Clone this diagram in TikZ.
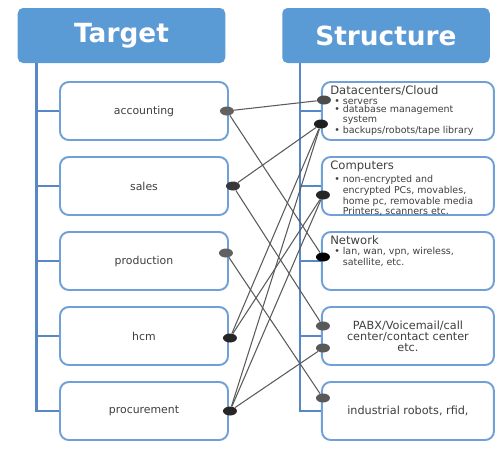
\documentclass[tikz,border=0pt]{standalone}
\usepackage{fontspec}
\setmainfont{DejaVu Sans}
\usepackage{xcolor}
\usepackage{tikz}
\usetikzlibrary{positioning,shapes.geometric}

\definecolor{headblue}{HTML}{5B9BD5}
\definecolor{treeblue}{HTML}{5787C4}
\definecolor{boxblue}{HTML}{6FA0D8}
\definecolor{txtgray}{HTML}{3F3F3F}
\definecolor{linkgray}{HTML}{5A5A5A}
\definecolor{dotgray}{HTML}{404040}

\newcommand{\bul}{\hspace*{0.08cm}\makebox[0.17cm][l]{\textbullet}}
\newcommand{\ind}{\hspace*{0.25cm}}

\begin{document}
\begin{tikzpicture}[
    node distance=1.5cm,
    head/.style={rectangle, rounded corners=3pt, fill=headblue, text=white, minimum width=4.15cm, minimum height=1.1cm, font=\bfseries\fontsize{15}{18}\selectfont},
    lbox/.style={rectangle, rounded corners=5pt, draw=boxblue, line width=1.1pt, fill=white, minimum width=3.36cm, minimum height=1.16cm, text=txtgray, font=\fontsize{6.2}{7}\selectfont},
    rbox/.style={lbox, minimum width=3.44cm, align=center, font=\fontsize{6.4}{4.9}\selectfont},
    rtext/.style={anchor=north west, inner sep=0pt, align=left, text=txtgray, font=\fontsize{5.4}{4.7}\selectfont},
    tree/.style={draw=treeblue, line width=1.3pt},
    link/.style={draw=linkgray, line width=0.6pt},
    dot/.style={ellipse, fill=dotgray, minimum width=0.28cm, minimum height=0.18cm, inner sep=0pt}
]
    \useasboundingbox (0,0) rectangle (9.98,-9.08);

    \node[head] (target) at (2.43,-0.71) {Target};
    \node[head] (structure) at (7.72,-0.71) {Structure};

    \node[lbox] (acc) at (2.88,-2.22) {accounting};
    \node[lbox, below of=acc] (sales) {sales};
    \node[lbox, below of=sales] (prod) {production};
    \node[lbox, below of=prod] (hcm) {hcm};
    \node[lbox, below of=hcm] (proc) {procurement};

    \node[rbox, right=1.84cm of acc] (dc) {};
    \node[rbox, below of=dc] (comp) {};
    \node[rbox, below of=comp] (net) {};
    \node[rbox, below of=net] (pabx) {PABX/Voicemail/call\\center/contact center\\etc.};
    \node[rbox, below of=pabx] (ind) {industrial robots, rfid,};

    \node[rtext] (dctext) at ([xshift=0.18cm,yshift=-0.08cm]dc.north west) {{\fontsize{6.6}{7}\selectfont Datacenters/Cloud}\\[1pt]\bul servers\\\bul database management\\\ind system\\\bul backups/robots/tape library};
    \node[rtext] (comptext) at ([xshift=0.18cm,yshift=-0.08cm]comp.north west) {{\fontsize{6.6}{7}\selectfont Computers}\\[1pt]\bul non-encrypted and\\\ind encrypted PCs, movables,\\\ind home pc, removable media\\\ind Printers, scanners etc.};
    \node[rtext] (nettext) at ([xshift=0.18cm,yshift=-0.08cm]net.north west) {{\fontsize{6.6}{7}\selectfont Network}\\[1pt]\bul lan, wan, vpn, wireless,\\\ind satellite, etc.};

    \draw[tree] ([xshift=0.38cm]target.south west) |- (proc.west);
    \foreach \n in {acc,sales,prod,hcm}
        \draw[tree] (\n.west) -- ++(-0.46,0);
    \draw[tree] ([xshift=0.36cm]structure.south west) |- (ind.west);
    \foreach \n in {dc,comp,net,pabx}
        \draw[tree] (\n.west) -- ++(-0.4,0);

    \node[dot, fill=black!62] (accR) at ([xshift=-0.04cm]acc.east) {};
    \node[dot, fill=black!78] (salesR) at ([xshift=0.08cm]sales.east) {};
    \node[dot, fill=black!62] (prodR) at ([xshift=-0.06cm,yshift=0.16cm]prod.east) {};
    \node[dot, fill=black!85] (hcmR) at ([xshift=0.02cm,yshift=-0.04cm]hcm.east) {};
    \node[dot, fill=black!85] (procR) at ([xshift=0.02cm]proc.east) {};
    \node[dot, fill=black!70] (dcA) at ([xshift=0.06cm,yshift=0.22cm]dc.west) {};
    \node[dot, fill=black!88] (dcB) at ([yshift=-0.26cm]dc.west) {};
    \node[dot, fill=black!85] (compL) at ([xshift=0.04cm,yshift=-0.18cm]comp.west) {};
    \node[dot, fill=black] (netL) at ([xshift=0.04cm,yshift=0.08cm]net.west) {};
    \node[dot, fill=black!65] (pabxA) at ([xshift=0.04cm,yshift=0.2cm]pabx.west) {};
    \node[dot, fill=black!65] (pabxB) at ([xshift=0.04cm,yshift=-0.24cm]pabx.west) {};
    \node[dot, fill=black!65] (indL) at ([xshift=0.04cm,yshift=0.26cm]ind.west) {};

    \draw[link] (accR) -- (dcA);
    \draw[link] (accR) -- (netL);
    \draw[link] (salesR) -- (dcB);
    \draw[link] (salesR) -- (pabxA);
    \draw[link] (prodR) -- (indL);
    \draw[link] (hcmR) -- (dcB);
    \draw[link] (hcmR) -- (compL);
    \draw[link] (procR) -- (dcB);
    \draw[link] (procR) -- (compL);
    \draw[link] (procR) -- (pabxB);
\end{tikzpicture}
\end{document}
